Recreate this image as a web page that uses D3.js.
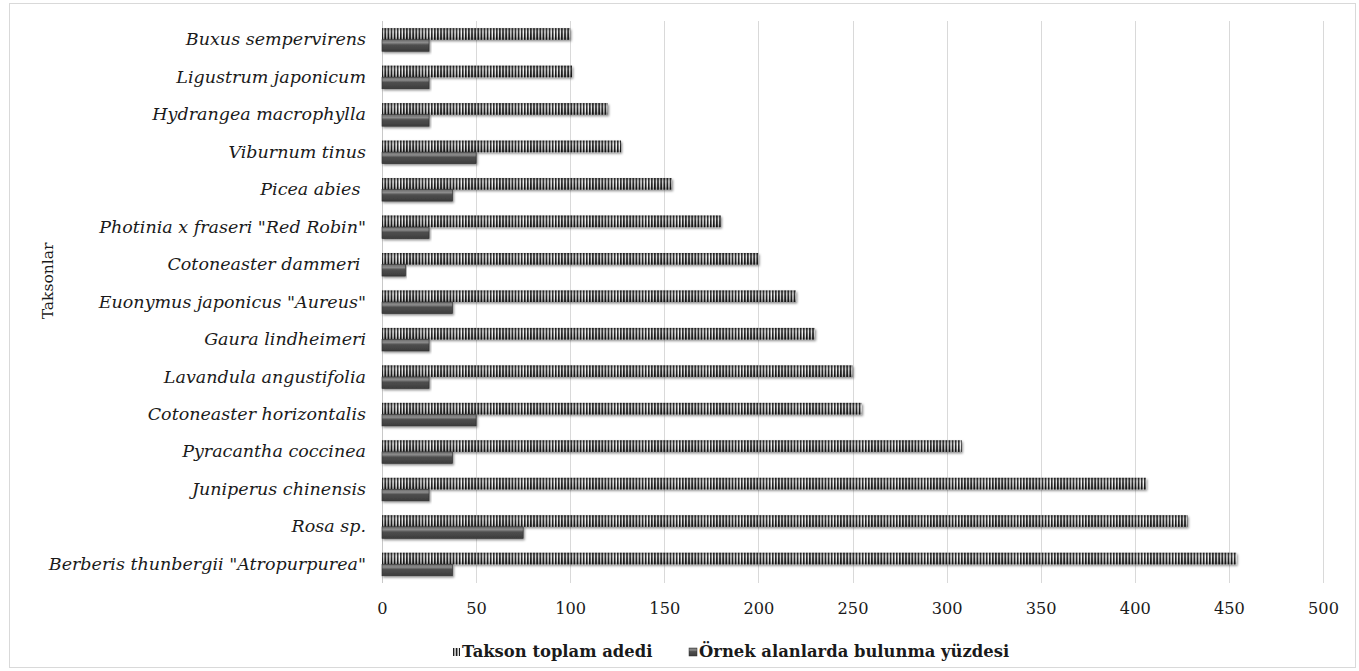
<!DOCTYPE html>
<html><head><meta charset="utf-8">
<script src="https://cdn.jsdelivr.net/npm/d3@7"></script>
<style>
html,body{margin:0;padding:0;background:#fff;}
svg{display:block;}
text{font-family:"DejaVu Serif","Liberation Serif",serif;fill:#1a1a1a;}
</style></head>
<body>
<svg id="chart" width="1359" height="671"></svg>
<script>
const categories = [
  "Buxus sempervirens",
  "Ligustrum japonicum",
  "Hydrangea macrophylla",
  "Viburnum tinus",
  "Picea abies ",
  "Photinia x fraseri \"Red Robin\"",
  "Cotoneaster dammeri ",
  "Euonymus japonicus \"Aureus\"",
  "Gaura lindheimeri",
  "Lavandula angustifolia",
  "Cotoneaster horizontalis",
  "Pyracantha coccinea",
  "Juniperus chinensis",
  "Rosa sp.",
  "Berberis thunbergii \"Atropurpurea\""
];
const taksonToplam = [100, 101, 120, 127, 154, 180, 200, 220, 230, 250, 255, 308, 406, 428, 454];
const bulunmaYuzdesi = [25, 25, 25, 50, 37.5, 25, 12.5, 37.5, 25, 25, 50, 37.5, 25, 75, 37.5];
const seriesNames = ["Takson toplam adedi", "Örnek alanlarda bulunma yüzdesi"];
const xTicks = [0, 50, 100, 150, 200, 250, 300, 350, 400, 450, 500];
const yTitle = "Taksonlar";

const svg = d3.select("#chart");
const plot = {left: 382, right: 1323, top: 21, bottom: 583};

const defs = svg.append("defs");
const pat = defs.append("pattern").attr("id","stripes").attr("patternUnits","userSpaceOnUse")
  .attr("width",3.1).attr("height",40);
pat.append("rect").attr("width",3.1).attr("height",40).attr("fill","#f4f4f4");
pat.append("rect").attr("x",0).attr("width",1.8).attr("height",40).attr("fill","#1c1c1c");
const sg = defs.append("linearGradient").attr("id","stripeShade").attr("x1",0).attr("y1",0).attr("x2",0).attr("y2",1);
sg.append("stop").attr("offset","0%").attr("stop-color","#000").attr("stop-opacity",0.35);
sg.append("stop").attr("offset","35%").attr("stop-color","#fff").attr("stop-opacity",0.1);
sg.append("stop").attr("offset","70%").attr("stop-color","#000").attr("stop-opacity",0.05);
sg.append("stop").attr("offset","100%").attr("stop-color","#000").attr("stop-opacity",0.35);
const dg = defs.append("linearGradient").attr("id","darkGrad").attr("x1",0).attr("y1",0).attr("x2",0).attr("y2",1);
dg.append("stop").attr("offset","0%").attr("stop-color","#6a6a6a");
dg.append("stop").attr("offset","25%").attr("stop-color","#8c8c8c");
dg.append("stop").attr("offset","45%").attr("stop-color","#4f4f4f");
dg.append("stop").attr("offset","100%").attr("stop-color","#3c3c3c");
const f = defs.append("filter").attr("id","shadow").attr("x","-5%").attr("y","-40%").attr("width","110%").attr("height","200%");
f.append("feDropShadow").attr("dx",1.2).attr("dy",1.5).attr("stdDeviation",1.1).attr("flood-color","#000").attr("flood-opacity",0.45);

svg.append("rect").attr("x",9.5).attr("y",3.5).attr("width",1346).attr("height",664)
  .attr("fill","#fff").attr("stroke","#d9d9d9").attr("stroke-width",1);

const x = d3.scaleLinear().domain([0,500]).range([plot.left, plot.right]);
const y = d3.scaleBand().domain(categories).range([plot.top, plot.bottom]).paddingInner(0.385).paddingOuter(0.1925);
const ys = d3.scaleBand().domain([0,1]).range([0, y.bandwidth()]);

svg.append("g").selectAll("line").data(xTicks).join("line")
  .attr("x1", d => Math.round(x(d))+0.5).attr("x2", d => Math.round(x(d))+0.5)
  .attr("y1", plot.top).attr("y2", plot.bottom)
  .attr("stroke", d => d===0 ? "#c8c8c8" : "#d9d9d9").attr("stroke-width",1);

const xAxis = d3.axisBottom(x).tickValues(xTicks).tickSize(0).tickPadding(0);
const gx = svg.append("g").attr("transform",`translate(0,${plot.bottom+19})`).call(xAxis);
gx.select(".domain").remove();
gx.selectAll("text").style("font-family",'"DejaVu Serif",serif').style("font-size","16.2px").attr("fill","#1a1a1a");

const yAxis = d3.axisLeft(y).tickSize(0).tickPadding(16);
const gy = svg.append("g").attr("transform",`translate(${plot.left},0)`).call(yAxis);
gy.select(".domain").remove();
gy.selectAll("text").style("font-family",'"DejaVu Serif",serif').style("font-size","17.5px")
  .style("font-style","italic").style("white-space","pre").attr("fill","#1a1a1a");

const rows = categories.map((c,i) => ({c, v0: taksonToplam[i], v1: bulunmaYuzdesi[i]}));
const gb = svg.append("g");
gb.selectAll("rect.s0").data(rows).join("rect").attr("class","s0")
  .attr("x", x(0)).attr("y", d => y(d.c)+ys(0)).attr("width", d => x(d.v0)-x(0)).attr("height", ys.bandwidth())
  .attr("fill","url(#stripes)").attr("filter","url(#shadow)");
gb.selectAll("rect.s0o").data(rows).join("rect").attr("class","s0o")
  .attr("x", x(0)).attr("y", d => y(d.c)+ys(0)).attr("width", d => x(d.v0)-x(0)).attr("height", ys.bandwidth())
  .attr("fill","url(#stripeShade)");
gb.selectAll("rect.s1").data(rows).join("rect").attr("class","s1")
  .attr("x", x(0)).attr("y", d => y(d.c)+ys(1)).attr("width", d => x(d.v1)-x(0)).attr("height", ys.bandwidth())
  .attr("fill","url(#darkGrad)").attr("stroke","#2e2e2e").attr("stroke-width",0.6).attr("filter","url(#shadow)");

svg.append("text").attr("transform","translate(53,281) rotate(-90)").attr("text-anchor","middle")
  .style("font-size","15.5px").text(yTitle);

const lg = svg.append("g").attr("transform","translate(0,657)");
lg.append("rect").attr("x",453).attr("y",-9).attr("width",7).attr("height",8).attr("fill","url(#stripes)");
lg.append("text").attr("x",462).attr("y",0).style("font-size","16.4px").style("font-weight","bold").text(seriesNames[0]);
lg.append("rect").attr("x",689).attr("y",-9).attr("width",8).attr("height",8).attr("fill","url(#darkGrad)").attr("stroke","#2e2e2e").attr("stroke-width",0.5);
lg.append("text").attr("x",699).attr("y",0).style("font-size","16.4px").style("font-weight","bold").text(seriesNames[1]);
</script>
</body></html>
